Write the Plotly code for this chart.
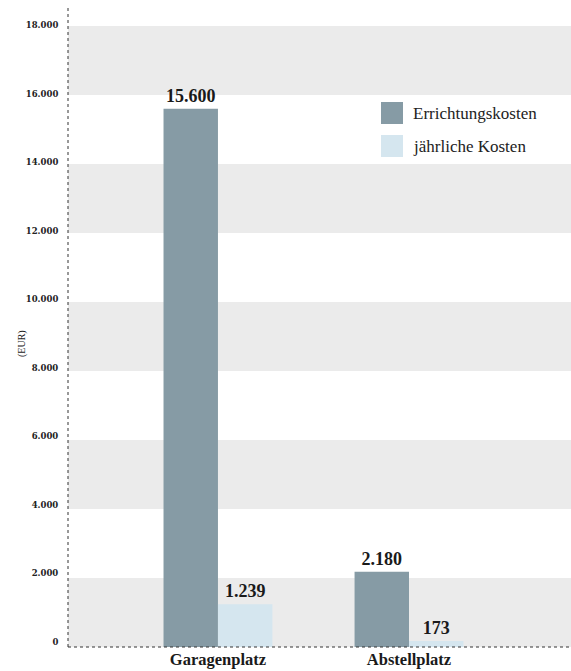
import plotly.graph_objects as go

# Kostenvergleich Stellplätze
categories = ["Garagenplatz", "Abstellplatz"]
errichtung = [15600, 2180]
jaehrlich = [1239, 173]
series_names = ["Errichtungskosten", "jährliche Kosten"]
tick_values = [0, 2000, 4000, 6000, 8000, 10000, 12000, 14000, 16000, 18000]
tick_labels = ["0", "2.000", "4.000", "6.000", "8.000", "10.000",
               "12.000", "14.000", "16.000", "18.000"]

DARK = "#869ba5"
LIGHT = "#d5e6ef"
BAND = "#ebebeb"
SERIF = "Liberation Serif"

fig = go.Figure()
for name, vals, col in [(series_names[0], errichtung, DARK),
                        (series_names[1], jaehrlich, LIGHT)]:
    fig.add_trace(go.Bar(
        x=categories, y=vals, name=name, marker=dict(color=col, line=dict(width=0)),
        texttemplate="%{y:,.0f}", textposition="outside", cliponaxis=False,
        textfont=dict(family=SERIF, size=18, color="#1a1a1a", weight="bold"),
        showlegend=False,
    ))

# invisible trace carrying the labelled value axis
fig.add_trace(go.Scatter(x=[categories[0]], y=[None], yaxis="y2",
                         mode="markers", showlegend=False, hoverinfo="skip"))

# alternating horizontal bands
shapes = []
for lo in range(0, 18000, 4000):
    shapes.append(dict(type="rect", xref="paper", yref="y", x0=0, x1=1,
                       y0=lo, y1=lo + 2000, fillcolor=BAND, line_width=0,
                       layer="below"))
shapes.append(dict(type="rect", xref="paper", yref="y", x0=0, x1=1,
                   y0=16000, y1=18000, fillcolor=BAND, line_width=0,
                   layer="below"))
# dotted axis lines
shapes.append(dict(type="line", xref="paper", yref="paper", x0=0, x1=0,
                   y0=0, y1=1, line=dict(color="#333", width=1, dash="dot")))
shapes.append(dict(type="line", xref="paper", yref="paper", x0=0, x1=1,
                   y0=0, y1=0, line=dict(color="#333", width=1, dash="dot")))

# legend
legend_items = [(series_names[0], DARK, 0), (series_names[1], LIGHT, 1)]
annotations = []
for name, col, i in legend_items:
    yc = 113 + i * 33
    shapes.append(dict(type="rect", xref="x domain", yref="paper",
                       x0=(381 - 68) / 503, x1=(403 - 68) / 503,
                       y0=(647 - (yc + 11)) / 640, y1=(647 - (yc - 11)) / 640,
                       fillcolor=col, line_width=0))
    annotations.append(dict(xref="x domain", yref="paper",
                            x=(411 - 68) / 503, y=(647 - yc) / 640,
                            xanchor="left", yanchor="middle", showarrow=False,
                            text=name,
                            font=dict(family=SERIF, size=17, color="#222")))

annotations.append(dict(xref="paper", yref="paper", x=0, y=(647 - 344) / 640,
                        xshift=22 - 68, xanchor="center", yanchor="middle",
                        textangle=-90, showarrow=False, text="(EUR)",
                        font=dict(family=SERIF, size=10, color="#222")))

fig.update_layout(
    width=571, height=671,
    margin=dict(l=68, r=0, t=7, b=24, autoexpand=False),
    plot_bgcolor="white", paper_bgcolor="white",
    barmode="group", bargap=0.43, bargroupgap=0,
    separators=",.",
    xaxis=dict(type="category", range=[-0.785, 1.848], showgrid=False,
               showline=False, zeroline=False, ticks="", automargin=False,
               ticklabelstandoff=0,
               tickfont=dict(family=SERIF, size=16.5, color="#1a1a1a",
                             weight="bold")),
    yaxis=dict(range=[0, 18550], showgrid=False, zeroline=False,
               showline=False, showticklabels=False, ticks="",
               automargin=False),
    yaxis2=dict(overlaying="y", side="left", range=[-146, 18525],
                tickvals=tick_values, ticktext=tick_labels,
                showgrid=False, zeroline=False, showline=False,
                ticks="outside", ticklen=7, tickcolor="rgba(0,0,0,0)",
                automargin=False,
                tickfont=dict(family="DejaVu Serif", size=8.5, color="#222",
                              weight="bold")),
    shapes=shapes, annotations=annotations,
)

fig.write_html("out.html")
